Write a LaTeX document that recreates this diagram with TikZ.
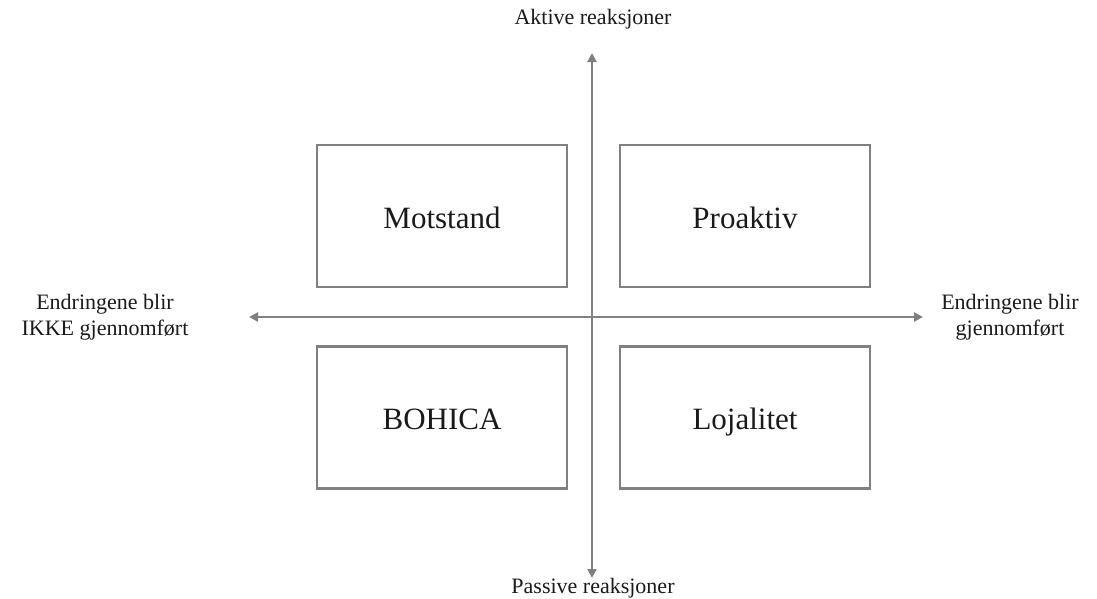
\documentclass[tikz,border=0pt]{standalone}
\usepackage{fontspec}
\setmainfont{Liberation Serif}
\usetikzlibrary{arrows.meta}
\definecolor{axisgray}{HTML}{808080}
\definecolor{ink}{HTML}{1A1A1A}
\tikzset{
  axisline/.style={draw=axisgray, line width=2.8pt, -{Triangle[length=9pt,width=9pt]}},
  quadbox/.style={draw=axisgray, line width=2.6pt, minimum width=250pt, minimum height=142pt,
    inner sep=0pt, text height=24pt, text depth=0pt, text=ink, font=\fontsize{31}{36}\selectfont},
  axislabel/.style={text=ink, align=center, inner sep=0pt, font=\fontsize{22}{26}\selectfont}
}
\begin{document}
\begin{tikzpicture}[x=1pt,y=-1pt]
  \useasboundingbox (0,0) rectangle (1097,598);
  % axis end points
  \coordinate (top) at (592,53);
  \coordinate (bottom) at (592,578);
  \coordinate (left) at (249,317);
  \coordinate (right) at (923,317);
  \coordinate (origin) at (592,317);
  \draw[axisline] (origin) -- (top);
  \draw[axisline] (origin) -- (bottom);
  \draw[axisline] (origin) -- (left);
  \draw[axisline] (origin) -- (right);
  % quadrants
  \node[quadbox] (motstand) at (442,216) {Motstand};
  \node[quadbox] (proaktiv) at (745,216) {Proaktiv};
  \node[quadbox] (bohica) at (442,417.5) {BOHICA};
  \node[quadbox] (lojalitet) at (745,417.5) {Lojalitet};
  % axis labels
  \node[axislabel] (aktiv) at (593,19) {Aktive reaksjoner};
  \node[axislabel] (passiv) at (593,588) {Passive reaksjoner};
  \node[axislabel] (ikke) at (105,317) {Endringene blir\\IKKE gjennomført};
  \node[axislabel] (ja) at (1010,317) {Endringene blir\\gjennomført};
\end{tikzpicture}
\end{document}
